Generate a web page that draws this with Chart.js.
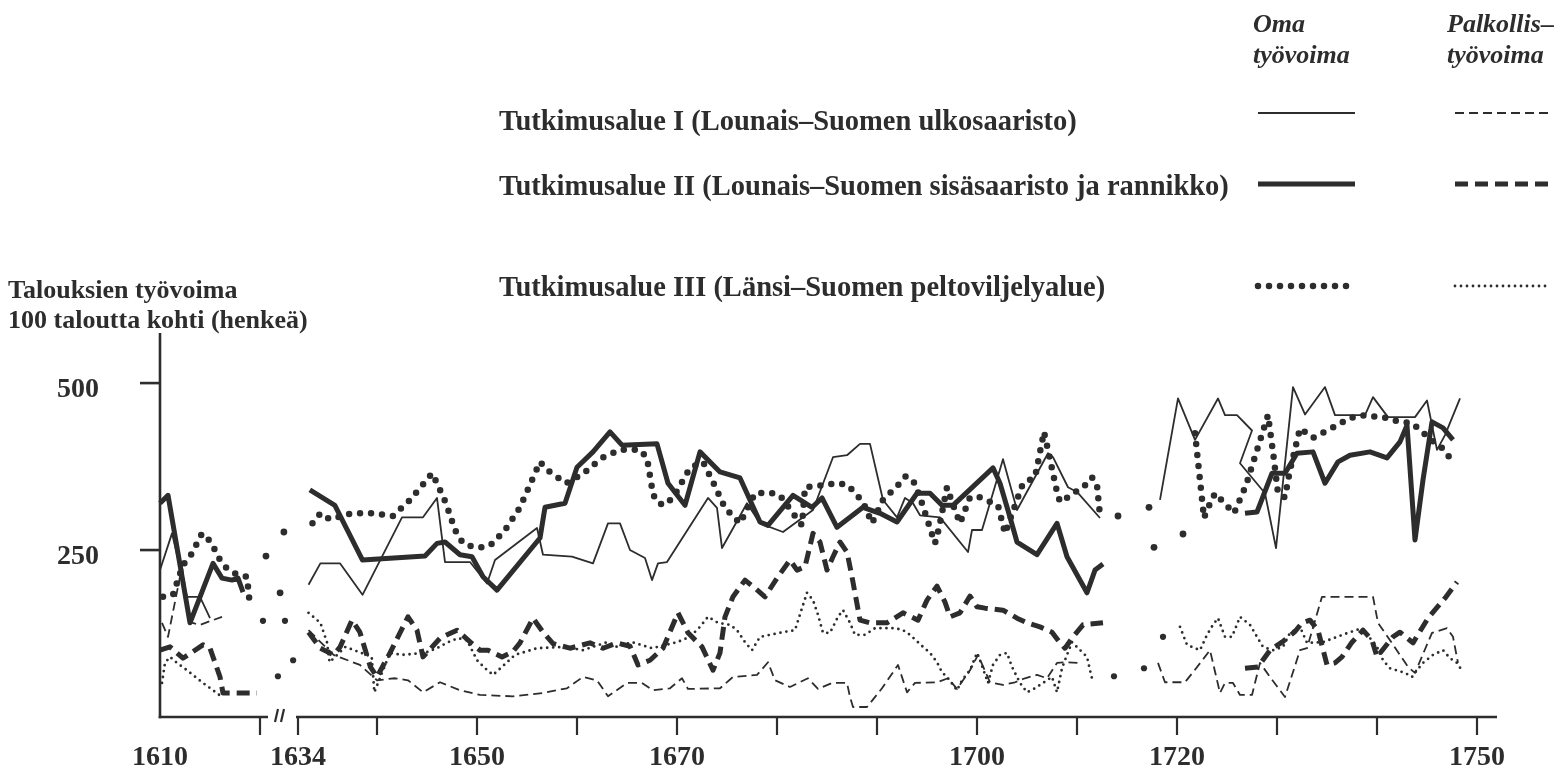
<!DOCTYPE html>
<html>
<head>
<meta charset="utf-8">
<title>Talouksien työvoima</title>
<script src="https://cdn.jsdelivr.net/npm/chart.js@4.4.1/dist/chart.umd.min.js"></script>
<style>
  html, body { margin: 0; padding: 0; background: #fff; }
  canvas { display: block; background: #fff; }
</style>
</head>
<body>
<canvas id="chart" width="1558" height="776"></canvas>
<script>
// values: [year, households' labour per 100 households]
// null = no line drawn across the gap
const regionIOwn = [
  [1610, 220], [1611.2, 275], [1612.7, 180], [1614, 180], [1615, 148], [1625, null],
  [1634.8, 198], [1635.7, 230], [1637.2, 230], [1638.9, 183], [1642.5, 299], [1644.6, 299], [1646, 328],
  [1646.8, 232], [1649.3, 232], [1651, 200], [1651.8, 235], [1656, 283], [1656.6, 243], [1659.5, 240],
  [1661.6, 230], [1663.1, 290], [1664.3, 290], [1665.3, 250], [1666.8, 238], [1667.5, 205], [1668.1, 230],
  [1669, 232], [1673.1, 328], [1674, 313], [1674.5, 253], [1677, 320], [1678.3, 290], [1680.6, 277],
  [1683.6, 310], [1685.6, 389], [1687, 392], [1688.3, 409], [1689.3, 409], [1690.6, 325], [1692, 299],
  [1692.8, 328], [1693.6, 320], [1694.3, 302], [1696.3, 299], [1699.1, 247], [1699.5, 280], [1700.5, 280],
  [1702.6, 386], [1704, 310], [1707.1, 395], [1707.6, 389], [1709.1, 344], [1710, 337], [1712.3, 298],
  [1715, null],
  [1718.3, 325], [1720.1, 477], [1721.8, 415], [1724.1, 477], [1724.8, 452], [1726, 452], [1727.5, 429],
  [1726.3, 380], [1728.8, 335], [1729.9, 253], [1731.6, 494], [1732.8, 453], [1734.8, 494], [1735.8, 452],
  [1738.8, 452], [1739.6, 479], [1741.1, 449], [1743.8, 449], [1745, 474], [1746, 400], [1746.8, 422],
  [1748.3, 477]
];

const regionIHired = [
  [1610.2, 141], [1610.8, 120], [1612.2, 225], [1613, 142], [1614, 138], [1616.2, 150], [1625, null],
  [1634.8, 130], [1636.7, 93], [1638.7, 78], [1640, 55], [1641.8, 58], [1643.1, 55], [1644.6, 37],
  [1646.3, 52], [1648.3, 40], [1650.3, 33], [1653.6, 31], [1656.6, 36], [1659, 43], [1660.6, 60],
  [1662, 55], [1663.1, 31], [1665, 51], [1666.5, 51], [1667.6, 40], [1669.3, 43], [1670.5, 58],
  [1671.1, 42], [1674.3, 43], [1675.6, 60], [1678, 63], [1679.1, 82], [1679.8, 55], [1681.3, 45],
  [1683.1, 58], [1684.1, 42], [1685.5, 51], [1687, 51], [1687.3, 30], [1687.6, 15], [1689, 15],
  [1690.5, 43], [1692.1, 78], [1693, 37], [1693.8, 51], [1696, 52], [1697.1, 58], [1698, 42],
  [1699.3, 70], [1700.1, 93], [1701.3, 52], [1702.6, 48], [1703.8, 52], [1704.8, 58], [1706, 63],
  [1707, 58], [1708, 81], [1709, 82], [1710.3, 81], [1715, null],
  [1718.1, 81], [1718.8, 52], [1720.8, 52], [1721.6, 67], [1723.3, 100], [1724.3, 36], [1724.8, 51],
  [1725.6, 51], [1726.3, 33], [1727.5, 33], [1728.3, 81], [1729.3, 60], [1730.8, 30], [1732.3, 100],
  [1733, 103], [1734.5, 180], [1739.6, 180], [1740.1, 141], [1741.3, 115], [1743.1, 75], [1743.8, 66],
  [1745.5, 126], [1747, 133], [1747.6, 120], [1748.1, 81]
];

const regionIIOwn = [
  [1610, 320], [1610.8, 332], [1613, 141], [1615.3, 230], [1616.2, 208], [1617.2, 205], [1617.8, 208],
  [1618.3, 187], [1625, null],
  [1634.9, 340], [1636.8, 317], [1638.9, 235], [1644.8, 241], [1646, 260], [1646.8, 262], [1648.3, 243],
  [1649.5, 240], [1650.6, 210], [1652, 190], [1656.3, 268], [1656.8, 314], [1658.8, 320], [1660, 374],
  [1661.6, 397], [1663.3, 427], [1664.5, 407], [1668, 409], [1669.1, 350], [1670.8, 317], [1672.3, 397],
  [1674.3, 367], [1676.3, 358], [1678.3, 292], [1679.1, 287], [1681.6, 332], [1683.5, 314], [1684.5, 328],
  [1686, 284], [1688.6, 314], [1690.3, 305], [1692, 292], [1694, 335], [1695.3, 335], [1696.5, 317],
  [1697.6, 317], [1701.6, 373], [1702.3, 350], [1703.3, 299], [1704, 262], [1706, 243], [1708, 290],
  [1709, 240], [1711, 186], [1711.8, 220], [1712.6, 229], [1715, null],
  [1726.8, 305], [1728, 307], [1729.5, 365], [1730.8, 365], [1732, 395], [1733.6, 397], [1734.8, 350],
  [1736.1, 382], [1737.3, 392], [1739.3, 397], [1741, 388], [1742.3, 412], [1743, 437], [1743.8, 265],
  [1744.6, 355], [1745.5, 442], [1746.6, 433], [1747.6, 415]
];

const regionIIHired = [
  [1610, 100], [1611, 105], [1612.3, 88], [1614.3, 108], [1615, 103], [1616, 60], [1616.3, 36],
  [1619.7, 36], [1625, null],
  [1634.8, 127], [1635.7, 103], [1636.7, 93], [1637.2, 105], [1638.1, 145], [1638.7, 127], [1639.5, 75],
  [1640, 60], [1641.3, 96], [1643.1, 150], [1644, 130], [1644.6, 90], [1646.3, 118], [1648, 130],
  [1649.5, 110], [1650.3, 100], [1651.1, 100], [1652.5, 90], [1653.6, 98], [1654.3, 111], [1655.6, 148],
  [1656.6, 127], [1657.6, 110], [1659.3, 103], [1661.3, 111], [1662.6, 103], [1664, 111], [1665.3, 106],
  [1666.1, 78], [1667.3, 85], [1668.6, 103], [1670.1, 156], [1671.1, 126], [1672.5, 105], [1673.6, 70],
  [1674.3, 96], [1674.8, 150], [1675.6, 180], [1676.8, 205], [1677.8, 193], [1678.8, 180], [1680, 208],
  [1681.3, 235], [1682, 220], [1682.8, 225], [1683.6, 275], [1684.3, 262], [1685, 220], [1685.6, 240],
  [1686.3, 262], [1687, 247], [1687.5, 210], [1688.3, 145], [1689.3, 141], [1691, 141], [1692.6, 156],
  [1694.1, 145], [1695, 175], [1696, 196], [1696.8, 172], [1697.3, 150], [1698.3, 156], [1699.3, 181],
  [1700, 165], [1700.8, 163], [1702.6, 160], [1704, 148], [1705, 141], [1706.3, 135], [1707.5, 127],
  [1708.3, 111], [1708.8, 103], [1709.6, 120], [1710.6, 138], [1712.6, 141], [1715, null],
  [1726.8, 73], [1728.1, 75], [1729.3, 100], [1730.5, 112], [1731.8, 128], [1732.5, 141], [1733.3, 145],
  [1734.1, 130], [1735, 78], [1735.8, 81], [1736.5, 90], [1737.5, 112], [1738.6, 130], [1739.5, 115],
  [1740, 90], [1741.6, 120], [1742.3, 127], [1743.6, 111], [1745.1, 148], [1746.8, 178], [1748, 202]
];

const regionIIIOwn = [
  [1610.3, 180], [1611.3, 183], [1612.3, 228], [1613, 240], [1613.7, 260], [1614.2, 275], [1614.9, 265],
  [1615.5, 250], [1616, 235], [1616.7, 222], [1617.3, 216], [1618.7, 210], [1619, 166], [1625, null],
  [1635.1, 290], [1635.7, 305], [1636.4, 296], [1638.1, 305], [1639.6, 305], [1641.6, 301], [1643.3, 325],
  [1644.8, 352], [1645.5, 365], [1646, 350], [1646.9, 320], [1647.8, 280], [1648.6, 260], [1649.8, 254],
  [1650.8, 254], [1651.6, 260], [1653, 284], [1654.3, 314], [1656.3, 382], [1657, 370], [1658.9, 350],
  [1660.6, 364], [1662.5, 388], [1664.3, 400], [1666.3, 400], [1667, 388], [1667.5, 343], [1667.8, 325],
  [1668.6, 317], [1669.6, 328], [1671.3, 373], [1672.6, 382], [1673.6, 352], [1674.8, 313], [1676.3, 290],
  [1676.8, 305], [1677.8, 335], [1679.3, 336], [1680.3, 332], [1681.3, 311], [1682.5, 287], [1682.8, 344],
  [1686.1, 350], [1687.1, 347], [1688.6, 322], [1689.5, 290], [1690.6, 325], [1692.1, 347], [1692.9, 361],
  [1693.8, 350], [1694.5, 320], [1695.8, 260], [1696.2, 283], [1697, 344], [1697.5, 322], [1698.3, 290],
  [1699.3, 329], [1700.3, 329], [1702.1, 317], [1702.8, 275], [1704.6, 350], [1705.8, 359], [1706.7, 427],
  [1707.1, 400], [1708, 337], [1708.3, 322], [1709.1, 329], [1710.8, 347], [1711.5, 359], [1712, 347],
  [1712.3, 302], [1715, null],
  [1721.8, 425], [1722.7, 298], [1723, 310], [1723.8, 335], [1725.7, 305], [1726.9, 347], [1729.1, 452],
  [1729.6, 397], [1730.1, 335], [1730.8, 329], [1731.3, 370], [1732.3, 432], [1733.6, 418], [1736.3, 439],
  [1737.1, 447], [1738.8, 452], [1740.8, 448], [1742.3, 442], [1743.5, 440], [1744.5, 427], [1745.6, 413],
  [1746.5, 403], [1747.5, 384]
];

const regionIIIHired = [
  [1610.2, 51], [1610.5, 81], [1611, 90], [1611.7, 81], [1612.7, 70], [1613.7, 58], [1614.3, 51],
  [1615.3, 40], [1616.2, 30], [1625, null],
  [1634.8, 156], [1635.7, 141], [1636.2, 112], [1636.4, 82], [1637.6, 105], [1639.6, 90], [1639.8, 37],
  [1641.3, 96], [1642.5, 93], [1644.8, 96], [1646, 103], [1647.1, 112], [1648.1, 118], [1649, 115],
  [1650, 85], [1650.8, 73], [1651.6, 63], [1652.5, 75], [1653.8, 93], [1656, 103], [1658.8, 105],
  [1660.6, 100], [1663, 112], [1664, 105], [1665.5, 112], [1667.5, 103], [1670, 112], [1671.3, 120],
  [1672.3, 135], [1673.1, 150], [1674.1, 141], [1675.3, 138], [1676, 130], [1676.8, 112], [1677.5, 100],
  [1678.3, 120], [1680.6, 127], [1681.8, 130], [1682.5, 163], [1683, 186], [1683.6, 175], [1684.1, 153],
  [1684.6, 126], [1685.3, 126], [1686.1, 150], [1686.6, 160], [1687.3, 141], [1687.8, 123], [1688.8, 123],
  [1689.8, 133], [1691.8, 133], [1692.6, 130], [1693.3, 123], [1694.6, 105], [1695.3, 96], [1696, 82],
  [1696.5, 67], [1697.1, 58], [1698, 40], [1698.5, 55], [1699.3, 70], [1700, 96], [1700.3, 85],
  [1701.1, 51], [1701.6, 78], [1702.3, 93], [1703, 96], [1703.5, 75], [1704.3, 51], [1705, 37],
  [1705.8, 43], [1706.6, 51], [1707.5, 60], [1708, 37], [1708.5, 73], [1709, 93], [1709.5, 112],
  [1711, 90], [1711.3, 70], [1711.6, 52], [1715, null],
  [1720.3, 135], [1721, 108], [1722.3, 100], [1723, 123], [1723.6, 138], [1724.1, 148], [1724.8, 120],
  [1725.5, 120], [1726.3, 150], [1727.3, 138], [1728, 120], [1728.6, 105], [1729.6, 100], [1730.6, 105],
  [1731.3, 126], [1732.3, 135], [1733, 111], [1734.6, 112], [1736, 120], [1737.1, 126], [1738.5, 133],
  [1740, 105], [1740.6, 85], [1741.3, 73], [1742.8, 66], [1743.5, 60], [1744, 70], [1744.6, 81],
  [1745.6, 93], [1746.6, 100], [1747.3, 88], [1748, 81], [1748.6, 67]
];

// lone observations drawn as single dots
const regionIIIOwnSingles = [[1622.2, 241], [1628.8, 277], [1627.4, 186], [1714.1, 301], [1717.2, 314], [1717.7, 254], [1720.6, 274]];
const regionIIIHiredSingles = [[1621.1, 144], [1629.2, 144], [1632.2, 85], [1626.6, 61], [1718.6, 120], [1713.7, 61], [1716.7, 73]];

const xLabelYears = [1610, 1634, 1650, 1670, 1700, 1720, 1750];
const xTickYears = [1620, 1634, 1640, 1650, 1660, 1670, 1680, 1690, 1700, 1710, 1720, 1730, 1740, 1750];
const yTickValues = [250, 500];

const seriesLabels = [
  'Tutkimusalue I, oma työvoima', 'Tutkimusalue I, palkollistyövoima',
  'Tutkimusalue II, oma työvoima', 'Tutkimusalue II, palkollistyövoima',
  'Tutkimusalue III, oma työvoima', 'Tutkimusalue III, palkollistyövoima'
];
const regionLabels = [
  'Tutkimusalue I (Lounais–Suomen ulkosaaristo)',
  'Tutkimusalue II (Lounais–Suomen sisäsaaristo ja rannikko)',
  'Tutkimusalue III (Länsi–Suomen peltoviljelyalue)'
];
const columnTitles = [['Oma', 'työvoima'], ['Palkollis–', 'työvoima']];
const yTitle = ['Talouksien työvoima', '100 taloutta kohti (henkeä)'];

// broken time axis: 1620..1634 squeezed, 1634..1640 slightly stretched (as drawn)
const axisYears = [1610, 1620, 1634, 1640, 1750];
const axisUnits = [0, 10, 13.8, 21.7, 131.7];

function toAxis(year) {
  for (let i = 1; i < axisYears.length; i++) {
    if (year <= axisYears[i] || i === axisYears.length - 1) {
      const t = (year - axisYears[i - 1]) / (axisYears[i] - axisYears[i - 1]);
      return axisUnits[i - 1] + t * (axisUnits[i] - axisUnits[i - 1]);
    }
  }
}
const toPoints = series => series.map(([year, value]) => ({ x: toAxis(year), y: value }));

const ink = '#2d2d2d';
const serif = "'Liberation Serif', 'DejaVu Serif', serif";

const lineStyles = [
  { borderWidth: 1.8, borderDash: [], borderCapStyle: 'butt' },
  { borderWidth: 1.8, borderDash: [9, 5], borderCapStyle: 'butt' },
  { borderWidth: 5, borderDash: [], borderCapStyle: 'butt' },
  { borderWidth: 5, borderDash: [13, 7], borderCapStyle: 'butt' },
  { borderWidth: 6.5, borderDash: [0, 11], borderCapStyle: 'round' },
  { borderWidth: 2.8, borderDash: [0, 6], borderCapStyle: 'round' }
];

const seriesList = [regionIOwn, regionIHired, regionIIOwn, regionIIHired, regionIIIOwn, regionIIIHired];

const datasets = seriesList.map((series, i) => ({
  label: seriesLabels[i],
  data: toPoints(series),
  borderColor: ink,
  borderJoinStyle: 'round',
  pointRadius: 0,
  tension: 0,
  fill: false,
  clip: 8,
  ...lineStyles[i]
}));
datasets.push({
  label: 'Tutkimusalue III, oma työvoima (yksittäiset)',
  data: toPoints(regionIIIOwnSingles),
  showLine: false, pointRadius: 3.4, pointBorderWidth: 0, pointBackgroundColor: ink
});
datasets.push({
  label: 'Tutkimusalue III, palkollistyövoima (yksittäiset)',
  data: toPoints(regionIIIHiredSingles),
  showLine: false, pointRadius: 3.1, pointBorderWidth: 0, pointBackgroundColor: ink
});

function stroke(ctx, x1, y1, x2, y2) {
  ctx.beginPath();
  ctx.moveTo(x1, y1);
  ctx.lineTo(x2, y2);
  ctx.stroke();
}

const brokenAxis = {
  id: 'brokenAxis',
  beforeDatasetsDraw(chart) {
    const { ctx, chartArea: a, scales: { x, y } } = chart;
    ctx.save();
    ctx.strokeStyle = ink;
    ctx.lineCap = 'butt';
    ctx.lineWidth = 2.6;
    stroke(ctx, a.left, a.top, a.left, a.bottom + 1.3);
    const xBreakL = x.getPixelForValue(toAxis(1620));
    const xBreakR = x.getPixelForValue(toAxis(1634));
    stroke(ctx, a.left - 1.3, a.bottom, xBreakL + 8, a.bottom);
    stroke(ctx, xBreakR - 2, a.bottom, a.right, a.bottom);
    // break marks
    ctx.lineWidth = 2.2;
    const mid = (xBreakL + xBreakR) / 2;
    stroke(ctx, mid - 4, a.bottom + 5, mid - 1, a.bottom - 8);
    stroke(ctx, mid + 2, a.bottom + 5, mid + 5, a.bottom - 8);
    // tick marks
    ctx.lineWidth = 2.2;
    xTickYears.forEach(year => {
      const px = x.getPixelForValue(toAxis(year));
      stroke(ctx, px, a.bottom, px, a.bottom + 18);
    });
    ctx.lineWidth = 2.6;
    yTickValues.forEach(v => {
      const py = y.getPixelForValue(v);
      stroke(ctx, a.left - 20, py, a.left, py);
    });
    ctx.restore();
  }
};

const pictureLegend = {
  id: 'pictureLegend',
  afterDraw(chart) {
    const ctx = chart.ctx;
    const ds = chart.data.datasets;
    ctx.save();
    ctx.fillStyle = ink;
    ctx.textBaseline = 'alphabetic';
    ctx.textAlign = 'left';

    ctx.font = 'italic bold 26px ' + serif;
    const colX = [1253, 1447];
    columnTitles.forEach((lines, c) => {
      ctx.fillText(lines[0], colX[c], 32);
      ctx.fillText(lines[1], colX[c], 63);
    });

    const rowBase = [130, 195, 296];
    const rowLine = [113, 184, 286];
    const sampleX = [[1258, 1355], [1455, 1550]];
    ctx.font = 'bold 28.5px ' + serif;
    regionLabels.forEach((label, r) => {
      ctx.fillText(label, 499, rowBase[r]);
      for (let c = 0; c < 2; c++) {
        const d = ds[r * 2 + c];
        ctx.save();
        ctx.strokeStyle = ink;
        ctx.lineWidth = d.borderWidth;
        ctx.lineCap = d.borderCapStyle;
        ctx.setLineDash(d.borderDash);
        stroke(ctx, sampleX[c][0], rowLine[r], sampleX[c][1], rowLine[r]);
        ctx.restore();
      }
    });

    ctx.font = 'bold 26px ' + serif;
    ctx.fillText(yTitle[0], 8, 298);
    ctx.fillText(yTitle[1], 8, 328);
    ctx.restore();
  }
};

new Chart(document.getElementById('chart'), {
  type: 'line',
  data: { datasets: datasets },
  options: {
    responsive: false,
    animation: false,
    devicePixelRatio: 1,
    layout: { padding: { top: 333, right: 61, bottom: 0, left: 0 } },
    plugins: { legend: { display: false }, tooltip: { enabled: false } },
    scales: {
      x: {
        type: 'linear',
        min: 0,
        max: toAxis(1750) + 2,
        grid: { display: false, drawTicks: false },
        border: { display: false },
        afterFit: scale => { scale.height = 59; },
        afterBuildTicks: scale => { scale.ticks = xLabelYears.map(year => ({ value: toAxis(year) })); },
        ticks: {
          autoSkip: false,
          maxRotation: 0,
          padding: 24,
          color: ink,
          font: { family: serif, size: 28, weight: 'bold' },
          callback: (value, index) => String(xLabelYears[index])
        }
      },
      y: {
        min: 0,
        max: 575,
        grid: { display: false, drawTicks: false },
        border: { display: false },
        afterFit: scale => {
          scale.width = 160;
          scale.paddingTop = 0;
          scale.paddingBottom = 0;
        },
        afterBuildTicks: scale => { scale.ticks = yTickValues.map(v => ({ value: v })); },
        ticks: {
          padding: 61,
          labelOffset: 7,
          color: ink,
          font: { family: serif, size: 28, weight: 'bold' },
          callback: value => String(value)
        }
      }
    }
  },
  plugins: [brokenAxis, pictureLegend]
});
</script>
</body>
</html>
